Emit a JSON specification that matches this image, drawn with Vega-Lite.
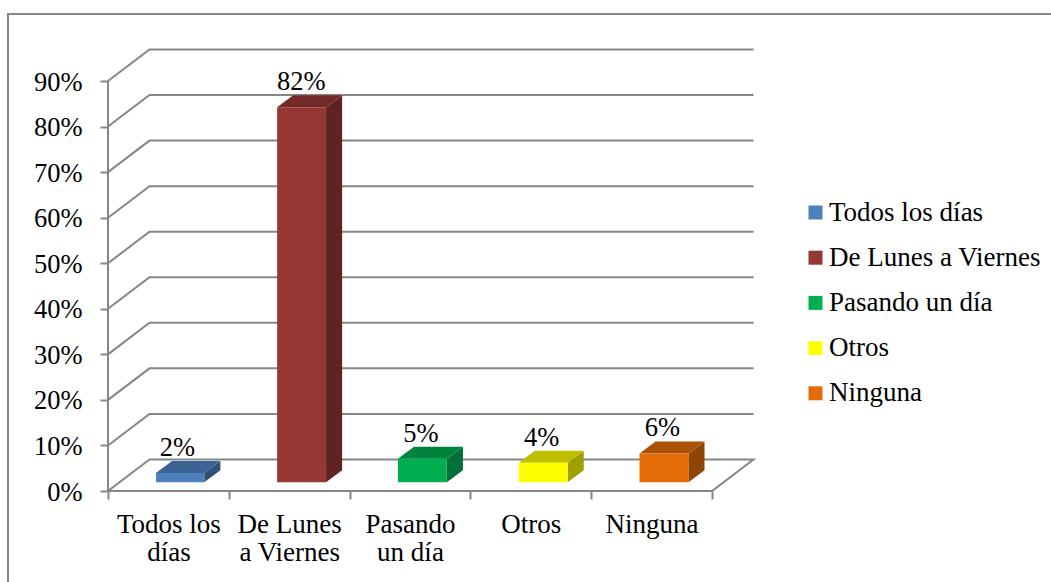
{
"$schema":"https://vega.github.io/schema/vega-lite/v6.json",
"width":646,"height":442,
"autosize":"none",
"padding":{"left":108,"top":49,"right":297,"bottom":91},
"background":"white",
"config":{"view":{"stroke":null},"font":"Liberation Serif"},
"datasets":{
"valores":[
{"categoria":"Todos los días","valor":2,"etiqueta":"2%","inicio":0.397,"fin":0.797,"base":1.93,"cima":3.93,"xEtiqueta":0.575,"yEtiqueta":6.56},
{"categoria":"De Lunes a Viernes","valor":82,"etiqueta":"82%","inicio":1.4,"fin":1.805,"base":1.93,"cima":84.26,"xEtiqueta":1.6,"yEtiqueta":86.89},
{"categoria":"Pasando un día","valor":5,"etiqueta":"5%","inicio":2.4,"fin":2.805,"base":1.93,"cima":7.09,"xEtiqueta":2.59,"yEtiqueta":9.72},
{"categoria":"Otros","valor":4,"etiqueta":"4%","inicio":3.4,"fin":3.805,"base":1.93,"cima":6.2,"xEtiqueta":3.59,"yEtiqueta":8.83},
{"categoria":"Ninguna","valor":6,"etiqueta":"6%","inicio":4.4,"fin":4.805,"base":1.93,"cima":8.25,"xEtiqueta":4.59,"yEtiqueta":10.88}
],
"lateral":[
{"categoria":"Todos los días","x":0.797,"y":3.93,"y2":1.93},{"categoria":"Todos los días","x":0.93,"y":6.56,"y2":4.56},
{"categoria":"De Lunes a Viernes","x":1.805,"y":84.26,"y2":1.93},{"categoria":"De Lunes a Viernes","x":1.938,"y":86.89,"y2":4.56},
{"categoria":"Pasando un día","x":2.805,"y":7.09,"y2":1.93},{"categoria":"Pasando un día","x":2.938,"y":9.72,"y2":4.56},
{"categoria":"Otros","x":3.805,"y":6.2,"y2":1.93},{"categoria":"Otros","x":3.938,"y":8.83,"y2":4.56},
{"categoria":"Ninguna","x":4.805,"y":8.25,"y2":1.93},{"categoria":"Ninguna","x":4.938,"y":10.88,"y2":4.56}
],
"superior":[
{"categoria":"Todos los días","y":3.93,"x":0.397,"x2":0.797},{"categoria":"Todos los días","y":6.56,"x":0.53,"x2":0.93},
{"categoria":"De Lunes a Viernes","y":84.26,"x":1.4,"x2":1.805},{"categoria":"De Lunes a Viernes","y":86.89,"x":1.533,"x2":1.938},
{"categoria":"Pasando un día","y":7.09,"x":2.4,"x2":2.805},{"categoria":"Pasando un día","y":9.72,"x":2.533,"x2":2.938},
{"categoria":"Otros","y":6.2,"x":3.4,"x2":3.805},{"categoria":"Otros","y":8.83,"x":3.533,"x2":3.938},
{"categoria":"Ninguna","y":8.25,"x":4.4,"x2":4.805},{"categoria":"Ninguna","y":10.88,"x":4.533,"x2":4.938}
],
"rejilla":[
{"serie":"marco","orden":1,"x":7.81,"y":104.7},{"serie":"marco","orden":2,"x":-0.828,"y":104.7},{"serie":"marco","orden":3,"x":-0.828,"y":-20},
{"serie":"eje","orden":1,"x":0,"y":0},{"serie":"eje","orden":2,"x":0,"y":90},
{"serie":"suelo","orden":1,"x":0,"y":0},{"serie":"suelo","orden":2,"x":0.3435,"y":6.92},{"serie":"suelo","orden":3,"x":5.3435,"y":6.92},{"serie":"suelo","orden":4,"x":5,"y":0},{"serie":"suelo","orden":5,"x":0,"y":0},
{"serie":"10","orden":1,"x":0,"y":10},{"serie":"10","orden":2,"x":0.3435,"y":16.92},{"serie":"10","orden":3,"x":5.3435,"y":16.92},
{"serie":"20","orden":1,"x":0,"y":20},{"serie":"20","orden":2,"x":0.3435,"y":26.92},{"serie":"20","orden":3,"x":5.3435,"y":26.92},
{"serie":"30","orden":1,"x":0,"y":30},{"serie":"30","orden":2,"x":0.3435,"y":36.92},{"serie":"30","orden":3,"x":5.3435,"y":36.92},
{"serie":"40","orden":1,"x":0,"y":40},{"serie":"40","orden":2,"x":0.3435,"y":46.92},{"serie":"40","orden":3,"x":5.3435,"y":46.92},
{"serie":"50","orden":1,"x":0,"y":50},{"serie":"50","orden":2,"x":0.3435,"y":56.92},{"serie":"50","orden":3,"x":5.3435,"y":56.92},
{"serie":"60","orden":1,"x":0,"y":60},{"serie":"60","orden":2,"x":0.3435,"y":66.92},{"serie":"60","orden":3,"x":5.3435,"y":66.92},
{"serie":"70","orden":1,"x":0,"y":70},{"serie":"70","orden":2,"x":0.3435,"y":76.92},{"serie":"70","orden":3,"x":5.3435,"y":76.92},
{"serie":"80","orden":1,"x":0,"y":80},{"serie":"80","orden":2,"x":0.3435,"y":86.92},{"serie":"80","orden":3,"x":5.3435,"y":86.92},
{"serie":"90","orden":1,"x":0,"y":90},{"serie":"90","orden":2,"x":0.3435,"y":96.92},{"serie":"90","orden":3,"x":5.3435,"y":96.92}
]
},
"resolve":{"scale":{"color":"independent"}},
"layer":[
{"data":{"name":"rejilla"},
 "mark":{"type":"line","color":"#868686","strokeWidth":2,"interpolate":"linear"},
 "encoding":{
  "x":{"field":"x","type":"quantitative","scale":{"domain":[0,5.3477],"nice":false,"zero":false},
   "axis":{"title":null,"grid":false,"domain":false,"values":[0,0.5,1,1.5,2,2.5,3,3.5,4,4.5,5],"tickColor":"#868686","tickWidth":2,"tickSize":8,
    "tickOpacity":{"condition":{"test":"datum.value%1!=0","value":0},"value":1},
    "labelFont":"Liberation Serif","labelFontSize":27,"labelColor":"black","labelAlign":"center","labelPadding":12,"labelOverlap":false,"labelBound":false,"labelFlush":false,"labelLineHeight":28,
    "labelExpr":"datum.value==0.5?['Todos los','días']:datum.value==1.5?['De Lunes','a Viernes']:datum.value==2.5?['Pasando','un día']:datum.value==3.5?'Otros':datum.value==4.5?'Ninguna':''"}},
  "y":{"field":"y","type":"quantitative","scale":{"domain":[0,97.03],"nice":false,"zero":false},
   "axis":{"title":null,"grid":false,"domain":false,"values":[0,10,20,30,40,50,60,70,80,90],"tickColor":"#868686","tickWidth":2,"tickSize":8,
    "labelFont":"Liberation Serif","labelFontSize":26.5,"labelColor":"black","labelPadding":18,"labelOffset":1,"labelExpr":"datum.value+'%'","labelOverlap":false,"labelBound":false}},
  "detail":{"field":"serie"},
  "order":{"field":"orden","type":"quantitative"}
 }},
{"data":{"name":"lateral"},
 "mark":{"type":"area","orient":"vertical","interpolate":"linear"},
 "encoding":{
  "x":{"field":"x","type":"quantitative"},
  "y":{"field":"y","type":"quantitative","stack":null},
  "y2":{"field":"y2"},
  "color":{"field":"categoria","type":"nominal","legend":null,"scale":{"domain":["Todos los días","De Lunes a Viernes","Pasando un día","Otros","Ninguna"],"range":["#2F5077","#5F2322","#006F3A","#A0A000","#8F4506"]}}
 }},
{"data":{"name":"superior"},
 "mark":{"type":"area","orient":"horizontal","interpolate":"linear"},
 "encoding":{
  "y":{"field":"y","type":"quantitative"},
  "x":{"field":"x","type":"quantitative","stack":null},
  "x2":{"field":"x2"},
  "color":{"field":"categoria","type":"nominal","legend":null,"scale":{"domain":["Todos los días","De Lunes a Viernes","Pasando un día","Otros","Ninguna"],"range":["#3B6494","#722A28","#00843C","#BFBF00","#AA5107"]}}
 }},
{"data":{"name":"valores"},
 "mark":{"type":"rect"},
 "encoding":{
  "x":{"field":"inicio","type":"quantitative"},
  "x2":{"field":"fin"},
  "y":{"field":"cima","type":"quantitative"},
  "y2":{"field":"base"},
  "color":{"field":"categoria","type":"nominal",
   "scale":{"domain":["Todos los días","De Lunes a Viernes","Pasando un día","Otros","Ninguna"],"range":["#4F81BD","#953735","#00B050","#FFFF00","#E36C09"]},
   "legend":{"title":null,"orient":"none","legendX":694,"legendY":150,"symbolType":"square","symbolSize":196,"symbolStrokeWidth":0,"symbolOpacity":1,"labelFont":"Liberation Serif","labelFontSize":27,"labelColor":"black","labelLimit":400,"labelOffset":0,"rowPadding":17.2,"padding":0}}
 }},
{"data":{"name":"valores"},
 "mark":{"type":"text","font":"Liberation Serif","fontSize":26.5,"color":"black","baseline":"alphabetic","align":"center","dy":-5},
 "encoding":{
  "x":{"field":"xEtiqueta","type":"quantitative"},
  "y":{"field":"yEtiqueta","type":"quantitative"},
  "text":{"field":"etiqueta"}
 }}
]
}
